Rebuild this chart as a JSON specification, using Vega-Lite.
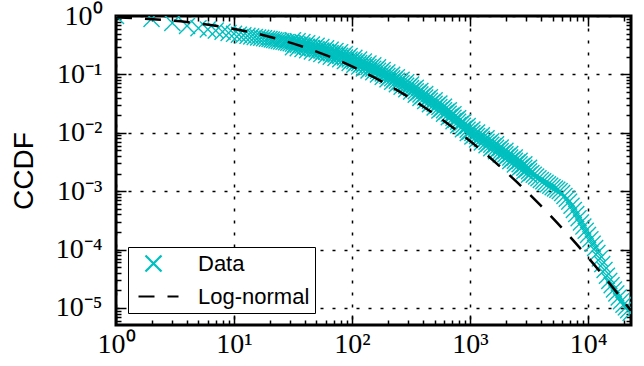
{
  "$schema": "https://vega.github.io/schema/vega-lite/v6.json",
  "width": 515,
  "height": 309,
  "autosize": "none",
  "padding": {"left": 116, "top": 16, "right": 13, "bottom": 41},
  "background": "white",
  "config": {
    "view": {"stroke": "black", "strokeWidth": 3},
    "axis": {"domain": false, "tickColor": "black", "tickWidth": 1.5, "labelColor": "black"}
  },
  "datasets": {
    "ccdf": [
      {"x": 1, "y": 1}, {"x": 2, "y": 0.891}, {"x": 3, "y": 0.759}, {"x": 4, "y": 0.676}, {"x": 5, "y": 0.617},
      {"x": 6, "y": 0.589}, {"x": 7, "y": 0.562}, {"x": 8, "y": 0.537}, {"x": 9, "y": 0.513}, {"x": 10, "y": 0.495},
      {"x": 11, "y": 0.479}, {"x": 12, "y": 0.468}, {"x": 13, "y": 0.457}, {"x": 14, "y": 0.447}, {"x": 15, "y": 0.437},
      {"x": 16, "y": 0.427}, {"x": 17, "y": 0.423}, {"x": 18, "y": 0.417}, {"x": 19, "y": 0.407}, {"x": 20, "y": 0.403},
      {"x": 20.89, "y": 0.395}, {"x": 21.88, "y": 0.388}, {"x": 22.91, "y": 0.381}, {"x": 23.99, "y": 0.374}, {"x": 25.12, "y": 0.367},
      {"x": 26.30, "y": 0.361}, {"x": 27.54, "y": 0.354}, {"x": 28.84, "y": 0.348}, {"x": 30.20, "y": 0.341}, {"x": 31.62, "y": 0.335},
      {"x": 33.11, "y": 0.329}, {"x": 34.67, "y": 0.323}, {"x": 36.31, "y": 0.317}, {"x": 38.02, "y": 0.311}, {"x": 39.81, "y": 0.305},
      {"x": 41.69, "y": 0.298}, {"x": 43.65, "y": 0.290}, {"x": 45.71, "y": 0.283}, {"x": 47.86, "y": 0.276}, {"x": 50.12, "y": 0.269},
      {"x": 52.48, "y": 0.262}, {"x": 54.95, "y": 0.256}, {"x": 57.54, "y": 0.250}, {"x": 60.26, "y": 0.243}, {"x": 63.10, "y": 0.237},
      {"x": 66.07, "y": 0.231}, {"x": 69.18, "y": 0.225}, {"x": 72.44, "y": 0.220}, {"x": 75.86, "y": 0.214}, {"x": 79.43, "y": 0.209},
      {"x": 83.18, "y": 0.201}, {"x": 87.10, "y": 0.194}, {"x": 91.20, "y": 0.187}, {"x": 95.50, "y": 0.180}, {"x": 100, "y": 0.174},
      {"x": 104.7, "y": 0.168}, {"x": 109.6, "y": 0.161}, {"x": 114.8, "y": 0.156}, {"x": 120.2, "y": 0.150}, {"x": 125.9, "y": 0.145},
      {"x": 131.8, "y": 0.139}, {"x": 138.0, "y": 0.134}, {"x": 144.5, "y": 0.129}, {"x": 151.4, "y": 0.125}, {"x": 158.5, "y": 0.120},
      {"x": 166.0, "y": 0.115}, {"x": 173.8, "y": 0.109}, {"x": 182.0, "y": 0.104}, {"x": 190.5, "y": 0.0991}, {"x": 199.5, "y": 0.0944},
      {"x": 208.9, "y": 0.0899}, {"x": 218.8, "y": 0.0857}, {"x": 229.1, "y": 0.0817}, {"x": 239.9, "y": 0.0778}, {"x": 251.2, "y": 0.0741},
      {"x": 263.0, "y": 0.0706}, {"x": 275.4, "y": 0.0673}, {"x": 288.4, "y": 0.0641}, {"x": 302.0, "y": 0.0611}, {"x": 316.2, "y": 0.0582},
      {"x": 331.1, "y": 0.0547}, {"x": 346.7, "y": 0.0514}, {"x": 363.1, "y": 0.0483}, {"x": 380.2, "y": 0.0454}, {"x": 398.1, "y": 0.0427},
      {"x": 416.9, "y": 0.0401}, {"x": 436.5, "y": 0.0377}, {"x": 457.1, "y": 0.0354}, {"x": 478.6, "y": 0.0333}, {"x": 501.2, "y": 0.0313},
      {"x": 524.8, "y": 0.0294}, {"x": 549.5, "y": 0.0276}, {"x": 575.4, "y": 0.0259}, {"x": 602.6, "y": 0.0244}, {"x": 631.0, "y": 0.0229},
      {"x": 660.7, "y": 0.0212}, {"x": 691.8, "y": 0.0196}, {"x": 724.4, "y": 0.0181}, {"x": 758.6, "y": 0.0167}, {"x": 794.3, "y": 0.0155},
      {"x": 831.8, "y": 0.0143}, {"x": 871.0, "y": 0.0132}, {"x": 912.0, "y": 0.0122}, {"x": 955.0, "y": 0.0113}, {"x": 1000, "y": 0.01047},
      {"x": 1047, "y": 9.89e-3}, {"x": 1096, "y": 9.33e-3}, {"x": 1148, "y": 8.81e-3}, {"x": 1202, "y": 8.32e-3}, {"x": 1259, "y": 7.85e-3},
      {"x": 1318, "y": 7.41e-3}, {"x": 1380, "y": 7.00e-3}, {"x": 1445, "y": 6.61e-3}, {"x": 1514, "y": 6.24e-3}, {"x": 1585, "y": 5.89e-3},
      {"x": 1660, "y": 5.52e-3}, {"x": 1738, "y": 5.18e-3}, {"x": 1820, "y": 4.85e-3}, {"x": 1905, "y": 4.55e-3}, {"x": 1995, "y": 4.27e-3},
      {"x": 2089, "y": 4.00e-3}, {"x": 2188, "y": 3.75e-3}, {"x": 2291, "y": 3.52e-3}, {"x": 2399, "y": 3.30e-3}, {"x": 2512, "y": 3.09e-3},
      {"x": 2630, "y": 2.88e-3}, {"x": 2754, "y": 2.69e-3}, {"x": 2884, "y": 2.51e-3}, {"x": 3020, "y": 2.34e-3}, {"x": 3162, "y": 2.19e-3},
      {"x": 3311, "y": 2.04e-3}, {"x": 3467, "y": 1.91e-3}, {"x": 3631, "y": 1.78e-3}, {"x": 3802, "y": 1.66e-3}, {"x": 3981, "y": 1.55e-3},
      {"x": 4169, "y": 1.47e-3}, {"x": 4365, "y": 1.39e-3}, {"x": 4571, "y": 1.31e-3}, {"x": 4786, "y": 1.24e-3}, {"x": 5012, "y": 1.17e-3},
      {"x": 5248, "y": 1.11e-3}, {"x": 5495, "y": 1.06e-3}, {"x": 5754, "y": 1.00e-3}, {"x": 6026, "y": 9.25e-4}, {"x": 6310, "y": 8.26e-4},
      {"x": 6607, "y": 7.40e-4}, {"x": 6918, "y": 6.61e-4}, {"x": 7244, "y": 5.61e-4}, {"x": 7586, "y": 4.76e-4}, {"x": 7943, "y": 4.05e-4},
      {"x": 8318, "y": 3.44e-4}, {"x": 8710, "y": 2.91e-4}, {"x": 9120, "y": 2.47e-4}, {"x": 9550, "y": 2.09e-4}, {"x": 10000, "y": 1.78e-4},
      {"x": 10471, "y": 1.50e-4}, {"x": 10965, "y": 1.26e-4}, {"x": 11482, "y": 1.06e-4}, {"x": 12023, "y": 8.75e-5}, {"x": 12589, "y": 7.02e-5},
      {"x": 13183, "y": 5.62e-5}, {"x": 13804, "y": 4.47e-5}, {"x": 14454, "y": 3.55e-5}, {"x": 15136, "y": 2.90e-5}, {"x": 15849, "y": 2.45e-5},
      {"x": 16596, "y": 2.07e-5}, {"x": 17378, "y": 1.77e-5}, {"x": 18197, "y": 1.51e-5}, {"x": 19055, "y": 1.30e-5}, {"x": 19953, "y": 1.13e-5},
      {"x": 20893, "y": 1.02e-5}, {"x": 21878, "y": 9.14e-6}, {"x": 22909, "y": 8.22e-6},
      {"x": 31.62, "y": 0.385}, {"x": 34.67, "y": 0.371}, {"x": 38.02, "y": 0.357}, {"x": 41.69, "y": 0.342}, {"x": 45.71, "y": 0.325},
      {"x": 50.12, "y": 0.309}, {"x": 54.95, "y": 0.294}, {"x": 60.26, "y": 0.279}, {"x": 66.07, "y": 0.265}, {"x": 72.44, "y": 0.252},
      {"x": 79.43, "y": 0.240}, {"x": 87.10, "y": 0.223}, {"x": 95.50, "y": 0.207}, {"x": 104.7, "y": 0.192}, {"x": 114.8, "y": 0.179},
      {"x": 125.9, "y": 0.166}, {"x": 138.0, "y": 0.154}, {"x": 151.4, "y": 0.143}, {"x": 166.0, "y": 0.132}, {"x": 182.0, "y": 0.119},
      {"x": 199.5, "y": 0.108}, {"x": 218.8, "y": 0.0984}, {"x": 239.9, "y": 0.0893}, {"x": 263.0, "y": 0.0811}, {"x": 288.4, "y": 0.0736},
      {"x": 316.2, "y": 0.0668}, {"x": 346.7, "y": 0.0590}, {"x": 380.2, "y": 0.0521}, {"x": 416.9, "y": 0.0460}, {"x": 457.1, "y": 0.0406},
      {"x": 501.2, "y": 0.0359}, {"x": 549.5, "y": 0.0317}, {"x": 602.6, "y": 0.0280}, {"x": 660.7, "y": 0.0243}, {"x": 724.4, "y": 0.0208},
      {"x": 794.3, "y": 0.0178}, {"x": 871.0, "y": 0.0152}, {"x": 955.0, "y": 0.0130}, {"x": 1047, "y": 0.01135}, {"x": 1148, "y": 0.01012},
      {"x": 1259, "y": 9.02e-3}, {"x": 1380, "y": 8.04e-3}, {"x": 1514, "y": 7.16e-3}, {"x": 1660, "y": 6.34e-3}, {"x": 1820, "y": 5.57e-3},
      {"x": 1995, "y": 4.90e-3}, {"x": 2188, "y": 4.31e-3}, {"x": 2399, "y": 3.78e-3}, {"x": 2630, "y": 3.31e-3}, {"x": 2884, "y": 2.88e-3},
      {"x": 3162, "y": 2.51e-3},
      {"x": 31.62, "y": 0.292}, {"x": 34.67, "y": 0.281}, {"x": 38.02, "y": 0.271}, {"x": 41.69, "y": 0.259}, {"x": 45.71, "y": 0.247},
      {"x": 50.12, "y": 0.234}, {"x": 54.95, "y": 0.223}, {"x": 60.26, "y": 0.212}, {"x": 66.07, "y": 0.201}, {"x": 72.44, "y": 0.191},
      {"x": 79.43, "y": 0.182}, {"x": 87.10, "y": 0.169}, {"x": 95.50, "y": 0.157}, {"x": 104.7, "y": 0.146}, {"x": 114.8, "y": 0.136},
      {"x": 125.9, "y": 0.126}, {"x": 138.0, "y": 0.117}, {"x": 151.4, "y": 0.109}, {"x": 166.0, "y": 0.0998}, {"x": 182.0, "y": 0.0906},
      {"x": 199.5, "y": 0.0822}, {"x": 218.8, "y": 0.0746}, {"x": 239.9, "y": 0.0678}, {"x": 263.0, "y": 0.0615}, {"x": 288.4, "y": 0.0558},
      {"x": 316.2, "y": 0.0507}, {"x": 346.7, "y": 0.0448}, {"x": 380.2, "y": 0.0395}, {"x": 416.9, "y": 0.0349}, {"x": 457.1, "y": 0.0308},
      {"x": 501.2, "y": 0.0272}, {"x": 549.5, "y": 0.0240}, {"x": 602.6, "y": 0.0212}, {"x": 660.7, "y": 0.0185}, {"x": 724.4, "y": 0.0158},
      {"x": 794.3, "y": 0.0135}, {"x": 871.0, "y": 0.0115}, {"x": 955.0, "y": 9.86e-3}, {"x": 1047, "y": 8.61e-3}, {"x": 1148, "y": 7.67e-3},
      {"x": 1259, "y": 6.84e-3}, {"x": 1380, "y": 6.10e-3}, {"x": 1514, "y": 5.43e-3}, {"x": 1660, "y": 4.81e-3}, {"x": 1820, "y": 4.23e-3},
      {"x": 1995, "y": 3.72e-3}, {"x": 2188, "y": 3.27e-3}, {"x": 2399, "y": 2.87e-3}, {"x": 2630, "y": 2.51e-3}, {"x": 2884, "y": 2.19e-3},
      {"x": 3162, "y": 1.91e-3}
    ],
    "fit": [
      {"x": 1, "y": 0.946}, {"x": 1.585, "y": 0.910}, {"x": 2.512, "y": 0.857}, {"x": 3.981, "y": 0.787}, {"x": 6.31, "y": 0.701},
      {"x": 10, "y": 0.601}, {"x": 15.85, "y": 0.495}, {"x": 25.12, "y": 0.388}, {"x": 39.81, "y": 0.290}, {"x": 63.1, "y": 0.205},
      {"x": 100, "y": 0.137}, {"x": 158.5, "y": 0.0861}, {"x": 251.2, "y": 0.0510}, {"x": 398.1, "y": 0.0284}, {"x": 631, "y": 0.01478},
      {"x": 1000, "y": 0.00722}, {"x": 1585, "y": 0.003303}, {"x": 2512, "y": 0.001413}, {"x": 3981, "y": 5.63e-4}, {"x": 6310, "y": 2.10e-4},
      {"x": 10000, "y": 7.32e-5}, {"x": 15849, "y": 2.37e-5}, {"x": 23120, "y": 8.98e-6}
    ]
  },
  "layer": [
    {
      "data": {"name": "ccdf"},
      "mark": {"type": "point", "filled": false, "size": 400, "strokeWidth": 1.4, "opacity": 1, "clip": true},
      "encoding": {
        "x": {
          "field": "x", "type": "quantitative",
          "scale": {"type": "log", "domain": [1, 23120], "nice": false},
          "axis": {
            "orient": "bottom", "title": null,
            "values": [1,2,3,4,5,6,7,8,9,10,20,30,40,50,60,70,80,90,100,200,300,400,500,600,700,800,900,1000,2000,3000,4000,5000,6000,7000,8000,9000,10000,20000],
            "labelExpr": "abs(log(datum.value)/LN10 - round(log(datum.value)/LN10)) < 0.001 ? '10' + ['⁰','¹','²','³','⁴'][round(log(datum.value)/LN10)] : ''",
            "labelFont": "Liberation Serif", "labelFontSize": 28, "labelPadding": 15, "labelFlush": false, "labelOverlap": false,
            "tickSize": {"condition": {"test": "abs(log(datum.value)/LN10 - round(log(datum.value)/LN10)) < 0.001", "value": -10}, "value": -5},
            "grid": true, "gridColor": "black", "gridDash": [3, 9], "gridWidth": 1.5,
            "gridOpacity": {"condition": {"test": "abs(log(datum.value)/LN10 - round(log(datum.value)/LN10)) < 0.001", "value": 1}, "value": 0}
          }
        },
        "y": {
          "field": "y", "type": "quantitative",
          "scale": {"type": "log", "domain": [5.09e-6, 1], "nice": false},
          "axis": {
            "orient": "left", "title": "CCDF",
            "titleFont": "Liberation Sans", "titleFontSize": 28, "titleFontWeight": "normal", "titleColor": "black",
            "titleX": -92, "titleY": 154.5, "titleAngle": -90, "titleAlign": "center", "titleBaseline": "middle",
            "values": [6e-6,7e-6,8e-6,9e-6,1e-5,2e-5,3e-5,4e-5,5e-5,6e-5,7e-5,8e-5,9e-5,1e-4,2e-4,3e-4,4e-4,5e-4,6e-4,7e-4,8e-4,9e-4,0.001,0.002,0.003,0.004,0.005,0.006,0.007,0.008,0.009,0.01,0.02,0.03,0.04,0.05,0.06,0.07,0.08,0.09,0.1,0.2,0.3,0.4,0.5,0.6,0.7,0.8,0.9,1],
            "labelExpr": "abs(log(datum.value)/LN10 - round(log(datum.value)/LN10)) < 0.001 ? (round(log(datum.value)/LN10) == 0 ? '10⁰' : '10⁻' + ['⁰','¹','²','³','⁴','⁵'][-round(log(datum.value)/LN10)]) : ''",
            "labelFont": "Liberation Serif", "labelFontSize": 28, "labelPadding": 24, "labelFlush": false, "labelOverlap": false,
            "tickSize": {"condition": {"test": "abs(log(datum.value)/LN10 - round(log(datum.value)/LN10)) < 0.001", "value": -10}, "value": -5},
            "grid": true, "gridColor": "black", "gridDash": [3, 9], "gridWidth": 1.5,
            "gridOpacity": {"condition": {"test": "abs(log(datum.value)/LN10 - round(log(datum.value)/LN10)) < 0.001", "value": 1}, "value": 0}
          }
        },
        "color": {
          "datum": "Data",
          "scale": {"domain": ["Data", "Log-normal"], "range": ["#00bfbf", "#000000"]},
          "legend": {
            "orient": "none", "legendX": 12, "legendY": 231, "title": null,
            "padding": 5, "strokeColor": "black", "fillColor": "white", "cornerRadius": 0,
            "symbolSize": 400, "symbolStrokeWidth": 2.2, "symbolOffset": 9,
            "labelFont": "Liberation Sans", "labelFontSize": 22, "labelColor": "black",
            "labelOffset": 33, "rowPadding": 9
          }
        },
        "shape": {
          "datum": "Data",
          "scale": {"domain": ["Data", "Log-normal"], "range": ["M-0.8,-0.8L0.8,0.8M-0.8,0.8L0.8,-0.8", "M-1.5,0L2.5,0"]},
          "legend": {
            "orient": "none", "legendX": 12, "legendY": 231, "title": null,
            "padding": 5, "strokeColor": "black", "fillColor": "white", "cornerRadius": 0,
            "symbolSize": 400, "symbolStrokeWidth": 2.2, "symbolOffset": 9,
            "labelFont": "Liberation Sans", "labelFontSize": 22, "labelColor": "black",
            "labelOffset": 33, "rowPadding": 9
          }
        },
        "strokeDash": {
          "datum": "Data",
          "scale": {"domain": ["Data", "Log-normal"], "range": [[1, 0], [16, 13]]},
          "legend": {
            "orient": "none", "legendX": 12, "legendY": 231, "title": null,
            "padding": 5, "strokeColor": "black", "fillColor": "white", "cornerRadius": 0,
            "symbolSize": 400, "symbolStrokeWidth": 2.2, "symbolOffset": 9,
            "labelFont": "Liberation Sans", "labelFontSize": 22, "labelColor": "black",
            "labelOffset": 33, "rowPadding": 9
          }
        }
      }
    },
    {
      "data": {"name": "fit"},
      "mark": {"type": "line", "strokeWidth": 2.5, "interpolate": "monotone", "clip": true},
      "encoding": {
        "x": {
          "field": "x", "type": "quantitative",
          "scale": {"type": "log", "domain": [1, 23120], "nice": false},
          "axis": {
            "orient": "top", "title": null, "labels": false, "grid": false,
            "values": [1,2,3,4,5,6,7,8,9,10,20,30,40,50,60,70,80,90,100,200,300,400,500,600,700,800,900,1000,2000,3000,4000,5000,6000,7000,8000,9000,10000,20000],
            "tickSize": {"condition": {"test": "abs(log(datum.value)/LN10 - round(log(datum.value)/LN10)) < 0.001", "value": -10}, "value": -5}
          }
        },
        "y": {
          "field": "y", "type": "quantitative",
          "scale": {"type": "log", "domain": [5.09e-6, 1], "nice": false},
          "axis": {
            "orient": "right", "title": null, "labels": false, "grid": false,
            "values": [6e-6,7e-6,8e-6,9e-6,1e-5,2e-5,3e-5,4e-5,5e-5,6e-5,7e-5,8e-5,9e-5,1e-4,2e-4,3e-4,4e-4,5e-4,6e-4,7e-4,8e-4,9e-4,0.001,0.002,0.003,0.004,0.005,0.006,0.007,0.008,0.009,0.01,0.02,0.03,0.04,0.05,0.06,0.07,0.08,0.09,0.1,0.2,0.3,0.4,0.5,0.6,0.7,0.8,0.9,1],
            "tickSize": {"condition": {"test": "abs(log(datum.value)/LN10 - round(log(datum.value)/LN10)) < 0.001", "value": -10}, "value": -5}
          }
        },
        "color": {"datum": "Log-normal"},
        "strokeDash": {"datum": "Log-normal"}
      }
    }
  ],
  "resolve": {"axis": {"x": "independent", "y": "independent"}}
}
